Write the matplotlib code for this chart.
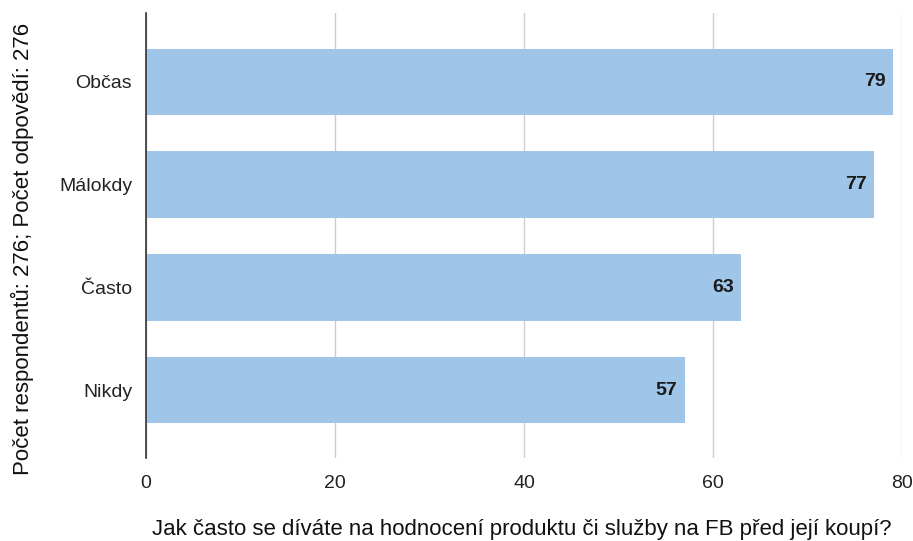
import matplotlib
matplotlib.use("Agg")
import matplotlib.pyplot as plt

plt.rcParams['font.family'] = ['Liberation Sans', 'DejaVu Sans']

categories = ["Občas", "Málokdy", "Často", "Nikdy"]
values = [79, 77, 63, 57]
xticks = [0, 20, 40, 60, 80]
xlabel = "Jak často se díváte na hodnocení produktu či služby na FB před její koupí?"
ylabel = "Počet respondentů: 276; Počet odpovědí: 276"

W, H = 913, 541
fig = plt.figure(figsize=(W / 100, H / 100), dpi=100)
ax = fig.add_axes([146 / W, 1 - 458 / H, (902 - 146) / W, (458 - 13) / H])

pos = list(range(len(categories)))
ax.barh(pos, values, height=0.645, color="#9fc5e8", zorder=3)
for p, v in zip(pos, values):
    ax.text(v - 0.75, p, str(v), ha="right", va="center", fontsize=14,
            fontweight="bold", color="#1a1a1a", zorder=4)

ax.set_yticks(pos)
ax.set_yticklabels(categories, fontsize=14, color="#222222")
ax.set_ylim(3.66, -0.67)
ax.set_xlim(0, 80)
ax.set_xticks(xticks)
ax.set_xticklabels([str(t) for t in xticks], fontsize=14, color="#222222")
ax.tick_params(axis="y", length=0, pad=10)
ax.tick_params(axis="x", length=0, pad=12)
ax.grid(axis="x", color="#cccccc", linewidth=1, zorder=0)
for s in ["top", "right", "bottom"]:
    ax.spines[s].set_visible(False)
ax.spines["left"].set_color("#333333")
ax.spines["left"].set_linewidth(1.2)
ax.spines["left"].set_zorder(5)

fig.text(522 / W, 1 - 530 / H, xlabel, fontsize=16, color="#111111",
         ha="center", va="center")
fig.text(22 / W, 1 - 249 / H, ylabel, fontsize=16, color="#111111",
         ha="center", va="center", rotation=90)

fig.savefig("out.png", dpi=100)
